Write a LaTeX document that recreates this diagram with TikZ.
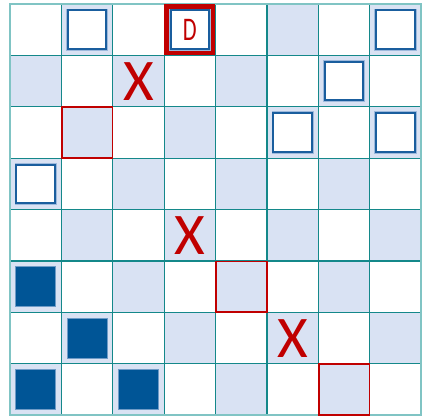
\documentclass[tikz,border=0pt]{standalone}
\usepackage{fontspec}
\setmainfont{Carlito}
\usetikzlibrary{positioning}
\definecolor{sqshade}{HTML}{D9E2F3}
\definecolor{gridteal}{HTML}{14888A}
\definecolor{gridedge}{HTML}{80C4C4}
\definecolor{pcblue}{HTML}{005596}
\definecolor{pcline}{HTML}{1A5E9E}
\definecolor{pchalo}{HTML}{9DB9DC}
\definecolor{mkred}{HTML}{C00000}
\tikzset{
  >=stealth,
  every picture/.style={line cap=rect, line join=miter},
  % board
  gridline/.style={gridteal, line width=1.2pt},
  boardedge/.style={gridedge, line width=2pt},
  hilite/.style={mkred, line width=1.8pt},
  hilitebold/.style={mkred, line width=4.6pt},
  % pieces
  hollowpc/.style={draw=pcline, line width=2pt, fill=white,
    preaction={draw=pchalo, line width=3.6pt}},
  solidpc/.style={fill=pcblue, draw=pchalo!70!pcblue, line width=0.8pt},
  crossmk/.style={mkred, font=\fontsize{59}{59}\selectfont, inner sep=0pt},
  lettermk/.style={mkred, font=\fontsize{33}{33}\selectfont, inner sep=0pt},
}
% cell (col,row) -> corner, board starts at (10,4), cell 51.4
\newcommand\cellbox[3]{\draw[#3] ({10+51.4*#1+0.4},{4+51.4*#2+0.4}) rectangle ++(50.6,50.6);}
\newcommand\hollow[2]{\draw[hollowpc] ({10+51.4*#1+6.4},{4+51.4*#2+6.4}) rectangle ++(38.6,38.6);}
\newcommand\solid[2]{\draw[solidpc] ({10+51.4*#1+5.6},{4+51.4*#2+5.6}) rectangle ++(40.2,40.2);}

\begin{document}
\begin{tikzpicture}[x=1pt, y=-1pt]
  \useasboundingbox (0,0) rectangle (424,416);
  % ---------------- checkerboard
  \foreach \r in {0,...,7}
    \foreach \c in {0,...,7}{
      \pgfmathtruncatemacro\odd{mod(\r+\c,2)}
      \ifnum\odd=1 \fill[sqshade] ({10+51.4*\c},{4+51.4*\r}) rectangle ++(51.4,51.4); \fi
    }
  \foreach \i in {1,...,7}{
    \draw[gridline] ({10+51.4*\i},4) -- ({10+51.4*\i},415.2);
    \draw[gridline] (10,{4+51.4*\i}) -- (421.2,{4+51.4*\i});
  }
  \draw[boardedge] (10,4) rectangle (421.2,415.2);
  % ---------------- pieces
  \foreach \c/\r in {1/0, 3/0, 7/0, 6/1, 5/2, 7/2, 0/3} \hollow{\c}{\r}
  \foreach \c/\r in {0/5, 1/6, 0/7, 2/7} \solid{\c}{\r}
  % highlighted cells
  \cellbox{1}{2}{hilite}
  \cellbox{4}{5}{hilite}
  \cellbox{6}{7}{hilite}
  \draw[hilitebold] (166.3,6.3) rectangle (213.1,53.1);
  % marks
  \node[lettermk] (dmark) at ({10+51.4*3.5},{4+51.4*0.5}) {\scalebox{0.68}[1]{D}};
  \node[crossmk] (xa) at ({10+51.4*2.5},{4+51.4*1.5}) {X};
  \node[crossmk] (xb) at ({10+51.4*3.5},{4+51.4*4.5}) {X};
  \node[crossmk] (xc) at ({10+51.4*5.5},{4+51.4*6.5}) {X};
\end{tikzpicture}
\end{document}
